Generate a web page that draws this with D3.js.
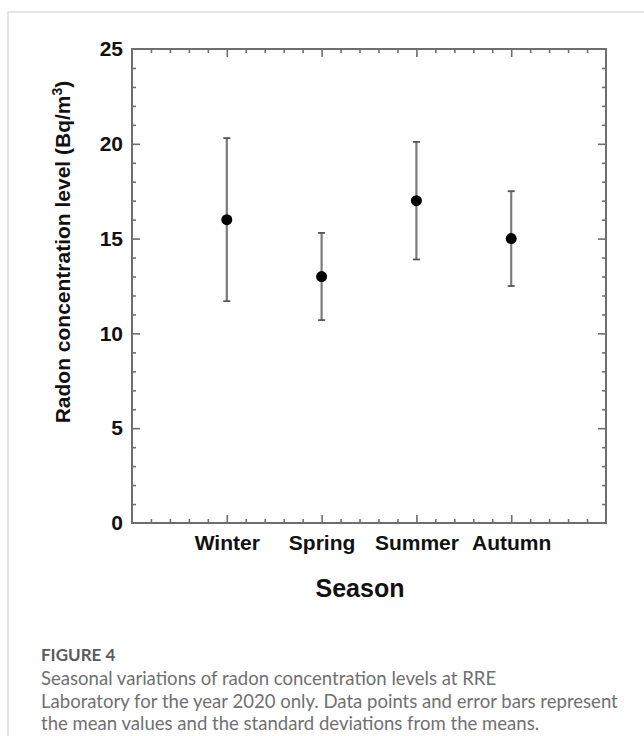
<!DOCTYPE html>
<html>
<head>
<meta charset="utf-8">
<script src="https://cdn.jsdelivr.net/npm/d3@7"></script>
<style>
  body { margin: 0; background: #fff; }
  svg { display: block; }
</style>
</head>
<body>
<svg id="chart"></svg>
<script>
// seasonal radon means and standard deviations
var seasons = ["Winter", "Spring", "Summer", "Autumn"];
var means = [16, 13, 17, 15];
var sds = [4.3, 2.3, 3.1, 2.5];
var yTickLabels = [0, 5, 10, 15, 20, 25];
var captionTitle = "FIGURE 4";
var captionLines = [
  "Seasonal variations of radon concentration levels at RRE",
  "Laboratory for the year 2020 only. Data points and error bars represent",
  "the mean values and the standard deviations from the means."
];

(function () {
  var W = 644, H = 736;
  var pl = 132, pr = 606, pt = 49, pb = 523;

  var svg = d3.select("#chart").attr("width", W).attr("height", H);

  // light page frame
  svg.append("path")
    .attr("d", "M8," + H + "V12H" + W)
    .attr("fill", "none")
    .attr("stroke", "#cfcfcf")
    .attr("stroke-width", 1.2);

  var x = d3.scaleLinear().domain([0, 5]).range([pl, pr]);
  var y = d3.scaleLinear().domain([0, 25]).range([pb, pt]);

  var xMinor = d3.range(1, 25).map(function (i) { return i / 5; })
    .filter(function (v) { return Math.abs(v - Math.round(v)) > 1e-6; });
  var xMajor = [1, 2, 3, 4];
  var yMinor = d3.range(1, 25).filter(function (v) { return v % 5 !== 0; });
  var yMajor = [5, 10, 15, 20];

  var axisColor = "#6e6e6e";

  function frameAxis(gen, tr, vals, size) {
    var g = svg.append("g")
      .attr("transform", tr)
      .call(gen.tickValues(vals).tickSizeInner(-size).tickSizeOuter(0).tickFormat(""));
    g.selectAll(".tick line").attr("stroke", axisColor).attr("stroke-width", 1.6);
    g.select(".domain").remove();
    return g;
  }

  // inward ticks on all four sides
  frameAxis(d3.axisBottom(x), "translate(0," + pb + ")", xMinor, 4);
  frameAxis(d3.axisBottom(x), "translate(0," + pb + ")", xMajor, 8);
  frameAxis(d3.axisTop(x), "translate(0," + pt + ")", xMinor, 4);
  frameAxis(d3.axisTop(x), "translate(0," + pt + ")", xMajor, 8);
  frameAxis(d3.axisLeft(y), "translate(" + pl + ",0)", yMinor, 4);
  frameAxis(d3.axisLeft(y), "translate(" + pl + ",0)", yMajor, 8);
  frameAxis(d3.axisRight(y), "translate(" + pr + ",0)", yMinor, 4);
  frameAxis(d3.axisRight(y), "translate(" + pr + ",0)", yMajor, 8);

  svg.append("rect")
    .attr("x", pl).attr("y", pt)
    .attr("width", pr - pl).attr("height", pb - pt)
    .attr("fill", "none")
    .attr("stroke", axisColor)
    .attr("stroke-width", 2);

  // tick labels
  var yLab = svg.append("g")
    .attr("transform", "translate(" + pl + ",0)")
    .call(d3.axisLeft(y).tickValues(yTickLabels).tickSize(0).tickPadding(9));
  yLab.select(".domain").remove();
  yLab.selectAll("text")
    .attr("font-family", "Liberation Sans, Arial, sans-serif")
    .attr("font-weight", "bold")
    .attr("font-size", 21)
    .attr("fill", "#111");

  var xLab = svg.append("g")
    .attr("transform", "translate(0," + pb + ")")
    .call(d3.axisBottom(x).tickValues(xMajor).tickSize(0).tickPadding(12)
      .tickFormat(function (d) { return seasons[d - 1]; }));
  xLab.select(".domain").remove();
  xLab.selectAll("text")
    .attr("font-family", "Liberation Sans, Arial, sans-serif")
    .attr("font-weight", "bold")
    .attr("font-size", 21)
    .attr("fill", "#111");

  // axis titles
  svg.append("text")
    .attr("x", 360).attr("y", 597)
    .attr("text-anchor", "middle")
    .attr("font-family", "Liberation Sans, Arial, sans-serif")
    .attr("font-weight", "bold")
    .attr("font-size", 25)
    .attr("fill", "#111")
    .text("Season");

  var yt = svg.append("text")
    .attr("transform", "translate(70,252) rotate(-90)")
    .attr("text-anchor", "middle")
    .attr("font-family", "Liberation Sans, Arial, sans-serif")
    .attr("font-weight", "bold")
    .attr("font-size", 21)
    .attr("fill", "#111");
  yt.append("tspan").text("Radon concentration level (Bq/m");
  yt.append("tspan").attr("font-size", 14).attr("dy", -8).text("3");
  yt.append("tspan").attr("dy", 8).text(")");

  // error bars and means
  var pts = seasons.map(function (s, i) { return { i: i + 1, m: means[i], sd: sds[i] }; });
  var eb = svg.append("g").selectAll("g").data(pts).join("g");
  eb.append("line")
    .attr("x1", function (d) { return x(d.i); }).attr("x2", function (d) { return x(d.i); })
    .attr("y1", function (d) { return y(d.m - d.sd); }).attr("y2", function (d) { return y(d.m + d.sd); })
    .attr("stroke", "#7a7a7a").attr("stroke-width", 2.2);
  [-1, 1].forEach(function (sgn) {
    eb.append("line")
      .attr("x1", function (d) { return x(d.i) - 3.5; }).attr("x2", function (d) { return x(d.i) + 3.5; })
      .attr("y1", function (d) { return y(d.m + sgn * d.sd); }).attr("y2", function (d) { return y(d.m + sgn * d.sd); })
      .attr("stroke", "#555").attr("stroke-width", 1.8);
  });
  eb.append("circle")
    .attr("cx", function (d) { return x(d.i); })
    .attr("cy", function (d) { return y(d.m); })
    .attr("r", 5.5)
    .attr("fill", "#000");

  // caption
  svg.append("text")
    .attr("x", 41).attr("y", 661)
    .attr("font-family", "Lato, Open Sans, sans-serif")
    .attr("font-weight", "bold")
    .attr("font-size", 17)
    .attr("fill", "#5a5a5a")
    .text(captionTitle);

  var cap = svg.append("g");
  cap.selectAll("text").data(captionLines).join("text")
    .attr("x", 41)
    .attr("y", function (d, i) { return 685 + i * 22.5; })
    .attr("font-family", "Lato, Open Sans, sans-serif")
    .attr("font-size", 17)
    .attr("fill", "#707070")
    .text(function (d) { return d; });

  // fit caption width to the reference line length
  var w2 = cap.selectAll("text").nodes()[1].getComputedTextLength();
  cap.selectAll("text").attr("font-size", 17 * 577 / w2);
})();
</script>
</body>
</html>
